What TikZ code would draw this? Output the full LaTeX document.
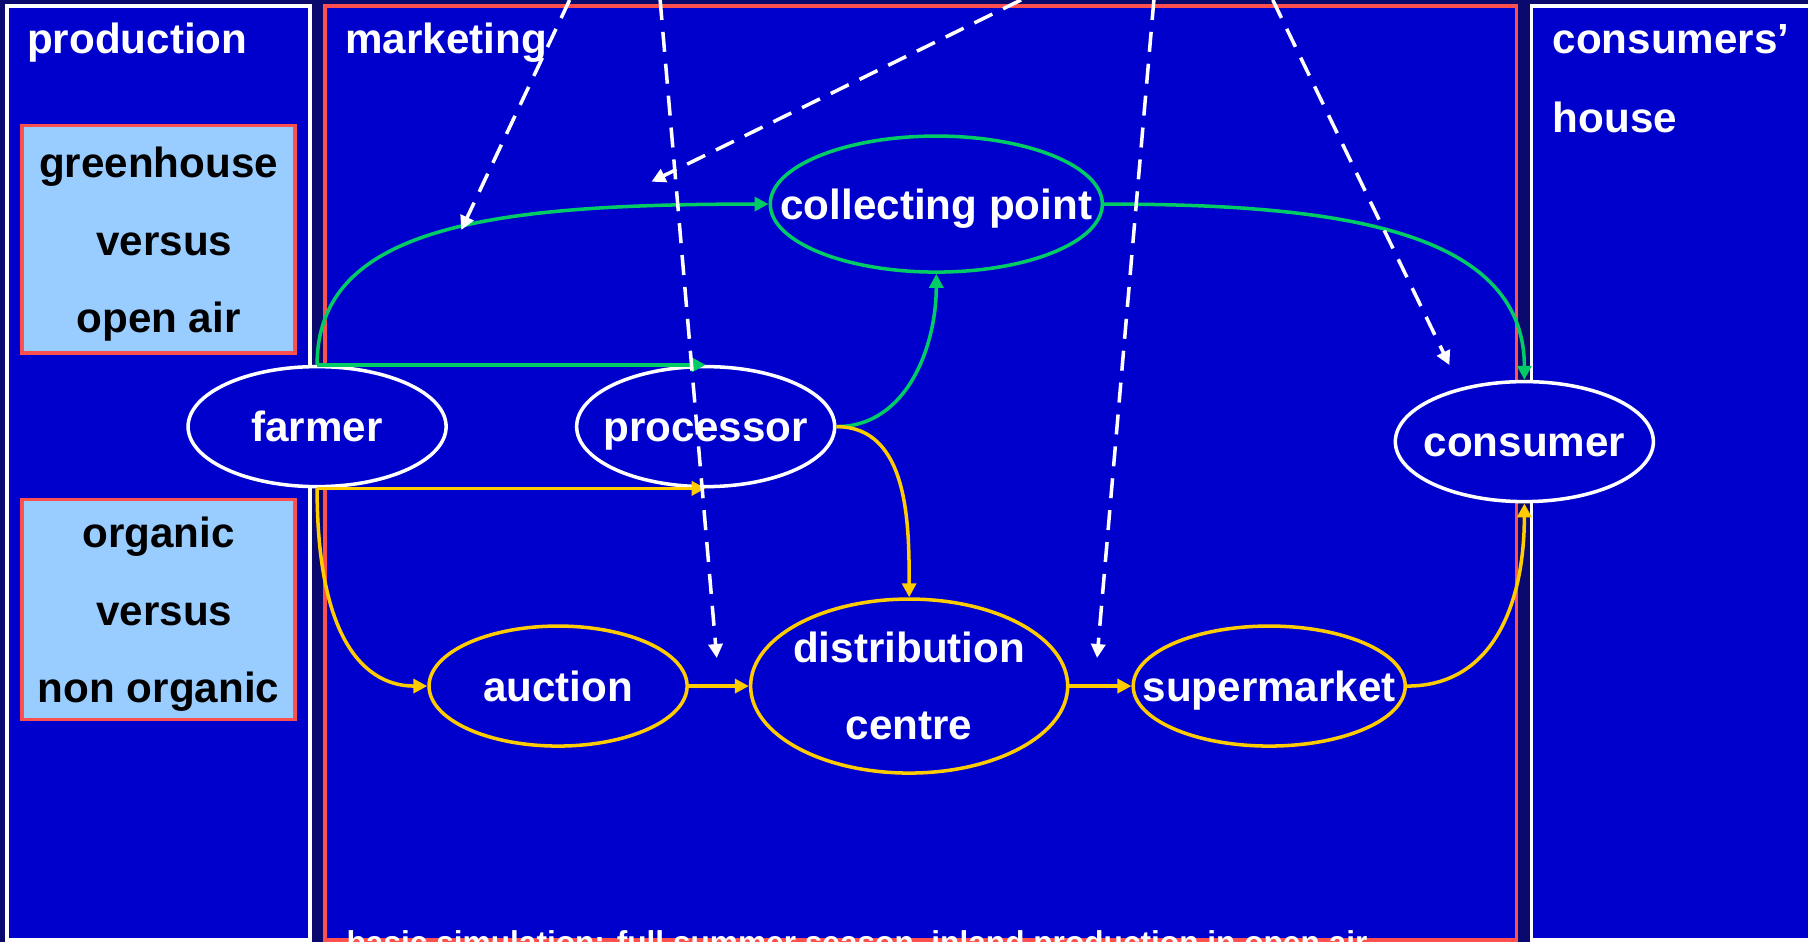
\documentclass[tikz,border=0pt]{standalone}
\usepackage{fontspec}
\setmainfont{Liberation Sans}
\usetikzlibrary{positioning,shapes.geometric,arrows.meta}

\definecolor{navy}{HTML}{0A0A6E}
\definecolor{slide}{HTML}{0000CC}
\definecolor{leaf}{HTML}{00CC66}
\definecolor{gold}{HTML}{FFCC00}
\definecolor{brick}{HTML}{FF5050}
\definecolor{sky}{HTML}{99CCFF}
\newcommand{\ctext}[1]{\makebox[0pt]{#1}}

\begin{document}
\begin{tikzpicture}[x=0.1153mm, y=0.1153mm,
    font=\fontsize{12}{22}\selectfont\bfseries,
    stage/.style={ellipse, draw=white, fill=slide, line width=1pt, inner sep=0pt,
      text=white, align=center, text height=8.6pt, text depth=0pt,
      minimum width=25.8mm, minimum height=12mm},
    panel/.style={draw=white, fill=slide, line width=1pt},
    choice/.style={draw=brick, fill=sky, line width=1pt, minimum width=27.3mm, inner sep=0pt},
    head/.style={anchor=base west, text=white, inner sep=0pt},
    gflow/.style={color=leaf, line width=1pt, -{Triangle[length=1.4mm,width=1.4mm]}},
    yflow/.style={color=gold, line width=1pt, -{Triangle[length=1.4mm,width=1.4mm]}},
    hint/.style={color=white, line width=1pt, dash pattern=on 2mm off 1.2mm,
      -{Triangle[length=1.4mm,width=1.4mm]}}]
  \useasboundingbox (0,0) rectangle (1568,817);
  \clip (0,0) rectangle (1568,817);
  \fill[navy] (0,0) rectangle (1568,817);
  \draw[panel] (6,2) rectangle (269,812);
  \draw[panel, draw=brick] (282,2) rectangle (1315,812);
  \draw[panel] (1328,2) rectangle (1580,812);

  \node[head] (prod) at (23,771) {production};
  \node[head] (mark) at (299,771) {marketing};
  \node[head] (home1) at (1346,771) {consumers'};
  \node[head] (home2) at (1346,702) {house};
  \node[choice, minimum height=22.7mm,
    label={[align=center, yshift=-1.4pt]center:{greenhouse\\~versus\\open air}}] (opt1) at (137.5,609.5) {};
  \node[choice, minimum height=22mm,
    label={[align=center, yshift=-1.4pt]center:{organic\\~versus\\non organic}}] (opt2) at (137.5,288.5) {};
  \node[head, font=\fontsize{9}{11}\selectfont\bfseries] (note) at (300,-9.5)
    {basic simulation: full summer season, inland production in open air};

  \node[stage] (farm) at (275,447) {\ctext{farmer}};
  \node[stage, right=12.7mm of farm] (proc) {\ctext{processor}};
  \node[stage, draw=leaf, minimum width=33.2mm, minimum height=13.6mm] (coll) at (812,640)
    {\ctext{collecting point}};
  \node[stage] (cons) at (1322,434) {\ctext{consumer}};
  \node[stage, draw=gold] (auct) at (484,222) {\ctext{auction}};
  \node[stage, draw=gold, text height=, text depth=, minimum width=31.7mm, minimum height=17.4mm,
    right=6mm of auct] (dist) {\ctext{distribution}\\\ctext{centre}};
  \node[stage, draw=gold, minimum width=27.2mm, right=6.2mm of dist] (super) {\ctext{supermarket}};

  \draw[gflow] (farm.north) .. controls +(0,121) and +(-238,0) .. (coll.west);
  \draw[gflow] (farm.north) -- (proc.north);
  \draw[gflow] (proc.east) to[out=0,in=-90] (coll.south);
  \draw[gflow] (coll.east) .. controls +(194,0) and +(0,133) .. (cons.north);
  \draw[yflow] (farm.south) -- (proc.south);
  \draw[yflow] (farm.south) .. controls +(0,-135) and +(-52,0) .. (auct.west);
  \draw[yflow] (proc.east) to[out=0,in=90] (dist.north);
  \draw[yflow] (auct) -- (dist);
  \draw[yflow] (dist) -- (super);
  \draw[yflow] (super.east) .. controls +(77,0) and +(0,-83) .. (cons.south);

  \coordinate (t1) at (494,817);    \coordinate (h1) at (400,617.5);
  \coordinate (t2) at (572.5,817);  \coordinate (h2) at (621.6,246.3);
  \coordinate (t3) at (885.5,817);  \coordinate (h3) at (565,659.4);
  \coordinate (t4) at (1000.7,817); \coordinate (h4) at (951.4,246.3);
  \coordinate (t5) at (1103.8,817); \coordinate (h5) at (1257,500.4);
  \draw[hint] (t1) -- (h1);
  \draw[hint] (t2) -- (h2);
  \draw[hint] (t3) -- (h3);
  \draw[hint] (t4) -- (h4);
  \draw[hint] (t5) -- (h5);
\end{tikzpicture}
\end{document}
